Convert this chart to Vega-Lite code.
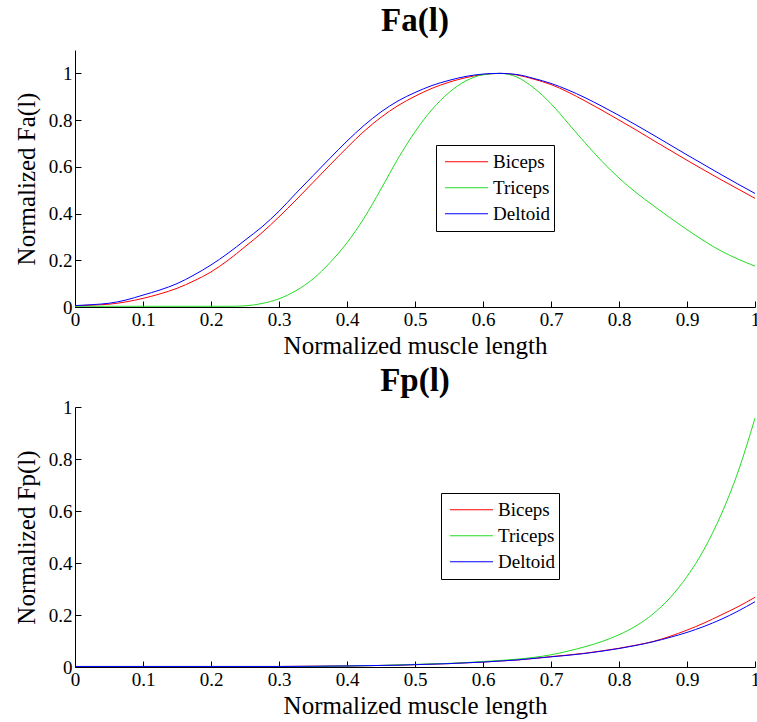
{
  "$schema": "https://vega.github.io/schema/vega-lite/v6.json",
  "padding": {"left": 14, "top": 5, "right": 2, "bottom": 2},
  "background": "white",
  "config": {
    "font": "Liberation Serif",
    "view": {"stroke": null},
    "axis": {"grid": false, "domainColor": "black", "tickColor": "black", "labelColor": "black", "titleColor": "black", "labelFont": "Liberation Serif", "titleFont": "Liberation Serif", "labelFontSize": 19, "titleFontSize": 25, "titleFontWeight": "normal", "tickSize": -6, "labelPadding": 9, "labelFlush": false, "domainWidth": 1, "tickWidth": 1},
    "axisY": {"titlePadding": 9},
    "title": {"font": "Liberation Serif", "fontSize": 33, "fontWeight": "bold", "color": "black"},
    "legend": {"title": null, "symbolType": "stroke", "symbolSize": 1850, "symbolStrokeWidth": 1, "clipHeight": 25.5, "labelFontSize": 19, "labelFont": "Liberation Serif", "labelColor": "black", "strokeColor": "black", "fillColor": "white", "padding": 4, "rowPadding": 0, "labelOffset": 4, "symbolOffset": 4}
  },
  "datasets": {
    "fa": [
      {"x":0,"v":0.005,"m":"Biceps"},{"x":0.025,"v":0.008,"m":"Biceps"},{"x":0.05,"v":0.012,"m":"Biceps"},{"x":0.075,"v":0.022,"m":"Biceps"},{"x":0.1,"v":0.037,"m":"Biceps"},{"x":0.125,"v":0.056,"m":"Biceps"},{"x":0.15,"v":0.08,"m":"Biceps"},{"x":0.175,"v":0.112,"m":"Biceps"},{"x":0.2,"v":0.15,"m":"Biceps"},{"x":0.225,"v":0.2,"m":"Biceps"},{"x":0.25,"v":0.258,"m":"Biceps"},{"x":0.275,"v":0.318,"m":"Biceps"},{"x":0.3,"v":0.386,"m":"Biceps"},{"x":0.325,"v":0.458,"m":"Biceps"},{"x":0.35,"v":0.533,"m":"Biceps"},{"x":0.375,"v":0.608,"m":"Biceps"},{"x":0.4,"v":0.682,"m":"Biceps"},{"x":0.425,"v":0.752,"m":"Biceps"},{"x":0.45,"v":0.812,"m":"Biceps"},{"x":0.475,"v":0.862,"m":"Biceps"},{"x":0.5,"v":0.902,"m":"Biceps"},{"x":0.525,"v":0.936,"m":"Biceps"},{"x":0.55,"v":0.962,"m":"Biceps"},{"x":0.575,"v":0.982,"m":"Biceps"},{"x":0.6,"v":0.995,"m":"Biceps"},{"x":0.625,"v":1.0,"m":"Biceps"},{"x":0.65,"v":0.993,"m":"Biceps"},{"x":0.675,"v":0.975,"m":"Biceps"},{"x":0.7,"v":0.952,"m":"Biceps"},{"x":0.725,"v":0.92,"m":"Biceps"},{"x":0.75,"v":0.882,"m":"Biceps"},{"x":0.775,"v":0.842,"m":"Biceps"},{"x":0.8,"v":0.8,"m":"Biceps"},{"x":0.825,"v":0.758,"m":"Biceps"},{"x":0.85,"v":0.714,"m":"Biceps"},{"x":0.875,"v":0.671,"m":"Biceps"},{"x":0.9,"v":0.628,"m":"Biceps"},{"x":0.925,"v":0.586,"m":"Biceps"},{"x":0.95,"v":0.545,"m":"Biceps"},{"x":0.975,"v":0.505,"m":"Biceps"},{"x":1,"v":0.465,"m":"Biceps"},
      {"x":0,"v":0.003,"m":"Triceps"},{"x":0.025,"v":0.003,"m":"Triceps"},{"x":0.05,"v":0.003,"m":"Triceps"},{"x":0.075,"v":0.003,"m":"Triceps"},{"x":0.1,"v":0.003,"m":"Triceps"},{"x":0.125,"v":0.003,"m":"Triceps"},{"x":0.15,"v":0.003,"m":"Triceps"},{"x":0.175,"v":0.003,"m":"Triceps"},{"x":0.2,"v":0.003,"m":"Triceps"},{"x":0.225,"v":0.003,"m":"Triceps"},{"x":0.25,"v":0.005,"m":"Triceps"},{"x":0.275,"v":0.015,"m":"Triceps"},{"x":0.3,"v":0.035,"m":"Triceps"},{"x":0.325,"v":0.07,"m":"Triceps"},{"x":0.35,"v":0.12,"m":"Triceps"},{"x":0.375,"v":0.19,"m":"Triceps"},{"x":0.4,"v":0.275,"m":"Triceps"},{"x":0.425,"v":0.38,"m":"Triceps"},{"x":0.45,"v":0.505,"m":"Triceps"},{"x":0.475,"v":0.635,"m":"Triceps"},{"x":0.5,"v":0.75,"m":"Triceps"},{"x":0.525,"v":0.845,"m":"Triceps"},{"x":0.55,"v":0.918,"m":"Triceps"},{"x":0.575,"v":0.968,"m":"Triceps"},{"x":0.6,"v":0.994,"m":"Triceps"},{"x":0.625,"v":1.0,"m":"Triceps"},{"x":0.65,"v":0.984,"m":"Triceps"},{"x":0.675,"v":0.937,"m":"Triceps"},{"x":0.7,"v":0.87,"m":"Triceps"},{"x":0.725,"v":0.787,"m":"Triceps"},{"x":0.75,"v":0.703,"m":"Triceps"},{"x":0.775,"v":0.623,"m":"Triceps"},{"x":0.8,"v":0.552,"m":"Triceps"},{"x":0.825,"v":0.49,"m":"Triceps"},{"x":0.85,"v":0.435,"m":"Triceps"},{"x":0.875,"v":0.382,"m":"Triceps"},{"x":0.9,"v":0.331,"m":"Triceps"},{"x":0.925,"v":0.283,"m":"Triceps"},{"x":0.95,"v":0.24,"m":"Triceps"},{"x":0.975,"v":0.205,"m":"Triceps"},{"x":1,"v":0.175,"m":"Triceps"},
      {"x":0,"v":0.006,"m":"Deltoid"},{"x":0.025,"v":0.01,"m":"Deltoid"},{"x":0.05,"v":0.016,"m":"Deltoid"},{"x":0.075,"v":0.03,"m":"Deltoid"},{"x":0.1,"v":0.051,"m":"Deltoid"},{"x":0.125,"v":0.073,"m":"Deltoid"},{"x":0.15,"v":0.1,"m":"Deltoid"},{"x":0.175,"v":0.137,"m":"Deltoid"},{"x":0.2,"v":0.18,"m":"Deltoid"},{"x":0.225,"v":0.23,"m":"Deltoid"},{"x":0.25,"v":0.286,"m":"Deltoid"},{"x":0.275,"v":0.343,"m":"Deltoid"},{"x":0.3,"v":0.41,"m":"Deltoid"},{"x":0.325,"v":0.487,"m":"Deltoid"},{"x":0.35,"v":0.562,"m":"Deltoid"},{"x":0.375,"v":0.637,"m":"Deltoid"},{"x":0.4,"v":0.71,"m":"Deltoid"},{"x":0.425,"v":0.777,"m":"Deltoid"},{"x":0.45,"v":0.835,"m":"Deltoid"},{"x":0.475,"v":0.882,"m":"Deltoid"},{"x":0.5,"v":0.918,"m":"Deltoid"},{"x":0.525,"v":0.948,"m":"Deltoid"},{"x":0.55,"v":0.97,"m":"Deltoid"},{"x":0.575,"v":0.987,"m":"Deltoid"},{"x":0.6,"v":0.997,"m":"Deltoid"},{"x":0.625,"v":1.0,"m":"Deltoid"},{"x":0.65,"v":0.995,"m":"Deltoid"},{"x":0.675,"v":0.978,"m":"Deltoid"},{"x":0.7,"v":0.957,"m":"Deltoid"},{"x":0.725,"v":0.929,"m":"Deltoid"},{"x":0.75,"v":0.896,"m":"Deltoid"},{"x":0.775,"v":0.859,"m":"Deltoid"},{"x":0.8,"v":0.82,"m":"Deltoid"},{"x":0.825,"v":0.779,"m":"Deltoid"},{"x":0.85,"v":0.737,"m":"Deltoid"},{"x":0.875,"v":0.694,"m":"Deltoid"},{"x":0.9,"v":0.651,"m":"Deltoid"},{"x":0.925,"v":0.609,"m":"Deltoid"},{"x":0.95,"v":0.567,"m":"Deltoid"},{"x":0.975,"v":0.526,"m":"Deltoid"},{"x":1,"v":0.486,"m":"Deltoid"}
    ],
    "fp": [
      {"x":0,"v":0.002,"m":"Biceps"},{"x":0.05,"v":0.002,"m":"Biceps"},{"x":0.1,"v":0.002,"m":"Biceps"},{"x":0.15,"v":0.002,"m":"Biceps"},{"x":0.2,"v":0.002,"m":"Biceps"},{"x":0.25,"v":0.002,"m":"Biceps"},{"x":0.3,"v":0.002,"m":"Biceps"},{"x":0.35,"v":0.003,"m":"Biceps"},{"x":0.4,"v":0.004,"m":"Biceps"},{"x":0.425,"v":0.005,"m":"Biceps"},{"x":0.45,"v":0.006,"m":"Biceps"},{"x":0.475,"v":0.007,"m":"Biceps"},{"x":0.5,"v":0.009,"m":"Biceps"},{"x":0.525,"v":0.011,"m":"Biceps"},{"x":0.55,"v":0.013,"m":"Biceps"},{"x":0.575,"v":0.016,"m":"Biceps"},{"x":0.6,"v":0.019,"m":"Biceps"},{"x":0.625,"v":0.023,"m":"Biceps"},{"x":0.65,"v":0.027,"m":"Biceps"},{"x":0.675,"v":0.033,"m":"Biceps"},{"x":0.7,"v":0.04,"m":"Biceps"},{"x":0.725,"v":0.046,"m":"Biceps"},{"x":0.75,"v":0.053,"m":"Biceps"},{"x":0.775,"v":0.062,"m":"Biceps"},{"x":0.8,"v":0.072,"m":"Biceps"},{"x":0.825,"v":0.084,"m":"Biceps"},{"x":0.85,"v":0.098,"m":"Biceps"},{"x":0.875,"v":0.118,"m":"Biceps"},{"x":0.9,"v":0.142,"m":"Biceps"},{"x":0.925,"v":0.169,"m":"Biceps"},{"x":0.95,"v":0.2,"m":"Biceps"},{"x":0.975,"v":0.232,"m":"Biceps"},{"x":1,"v":0.268,"m":"Biceps"},
      {"x":0,"v":0.002,"m":"Triceps"},{"x":0.05,"v":0.002,"m":"Triceps"},{"x":0.1,"v":0.002,"m":"Triceps"},{"x":0.15,"v":0.002,"m":"Triceps"},{"x":0.2,"v":0.002,"m":"Triceps"},{"x":0.25,"v":0.002,"m":"Triceps"},{"x":0.3,"v":0.002,"m":"Triceps"},{"x":0.35,"v":0.002,"m":"Triceps"},{"x":0.375,"v":0.003,"m":"Triceps"},{"x":0.4,"v":0.004,"m":"Triceps"},{"x":0.425,"v":0.005,"m":"Triceps"},{"x":0.45,"v":0.006,"m":"Triceps"},{"x":0.475,"v":0.008,"m":"Triceps"},{"x":0.5,"v":0.01,"m":"Triceps"},{"x":0.525,"v":0.012,"m":"Triceps"},{"x":0.55,"v":0.014,"m":"Triceps"},{"x":0.575,"v":0.017,"m":"Triceps"},{"x":0.6,"v":0.021,"m":"Triceps"},{"x":0.625,"v":0.025,"m":"Triceps"},{"x":0.65,"v":0.03,"m":"Triceps"},{"x":0.675,"v":0.037,"m":"Triceps"},{"x":0.7,"v":0.047,"m":"Triceps"},{"x":0.725,"v":0.061,"m":"Triceps"},{"x":0.75,"v":0.078,"m":"Triceps"},{"x":0.775,"v":0.098,"m":"Triceps"},{"x":0.8,"v":0.124,"m":"Triceps"},{"x":0.825,"v":0.158,"m":"Triceps"},{"x":0.85,"v":0.204,"m":"Triceps"},{"x":0.875,"v":0.266,"m":"Triceps"},{"x":0.9,"v":0.348,"m":"Triceps"},{"x":0.925,"v":0.452,"m":"Triceps"},{"x":0.95,"v":0.585,"m":"Triceps"},{"x":0.975,"v":0.75,"m":"Triceps"},{"x":1,"v":0.957,"m":"Triceps"},
      {"x":0,"v":0.002,"m":"Deltoid"},{"x":0.05,"v":0.002,"m":"Deltoid"},{"x":0.1,"v":0.002,"m":"Deltoid"},{"x":0.15,"v":0.002,"m":"Deltoid"},{"x":0.2,"v":0.002,"m":"Deltoid"},{"x":0.25,"v":0.002,"m":"Deltoid"},{"x":0.3,"v":0.002,"m":"Deltoid"},{"x":0.35,"v":0.003,"m":"Deltoid"},{"x":0.4,"v":0.004,"m":"Deltoid"},{"x":0.425,"v":0.005,"m":"Deltoid"},{"x":0.45,"v":0.006,"m":"Deltoid"},{"x":0.475,"v":0.007,"m":"Deltoid"},{"x":0.5,"v":0.009,"m":"Deltoid"},{"x":0.525,"v":0.011,"m":"Deltoid"},{"x":0.55,"v":0.013,"m":"Deltoid"},{"x":0.575,"v":0.016,"m":"Deltoid"},{"x":0.6,"v":0.019,"m":"Deltoid"},{"x":0.625,"v":0.023,"m":"Deltoid"},{"x":0.65,"v":0.027,"m":"Deltoid"},{"x":0.675,"v":0.033,"m":"Deltoid"},{"x":0.7,"v":0.039,"m":"Deltoid"},{"x":0.725,"v":0.045,"m":"Deltoid"},{"x":0.75,"v":0.052,"m":"Deltoid"},{"x":0.775,"v":0.061,"m":"Deltoid"},{"x":0.8,"v":0.071,"m":"Deltoid"},{"x":0.825,"v":0.083,"m":"Deltoid"},{"x":0.85,"v":0.097,"m":"Deltoid"},{"x":0.875,"v":0.114,"m":"Deltoid"},{"x":0.9,"v":0.133,"m":"Deltoid"},{"x":0.925,"v":0.156,"m":"Deltoid"},{"x":0.95,"v":0.183,"m":"Deltoid"},{"x":0.975,"v":0.215,"m":"Deltoid"},{"x":1,"v":0.251,"m":"Deltoid"}
    ]
  },
  "spacing": 7,
  "resolve": {"legend": {"color": "independent"}},
  "vconcat": [
    {
      "width": 680,
      "height": 257,
      "title": {"text": "Fa(l)", "offset": 12},
      "data": {"name": "fa"},
      "mark": {"type": "line", "strokeWidth": 1, "interpolate": "monotone"},
      "encoding": {
        "x": {"field": "x", "type": "quantitative", "scale": {"domain": [0, 1], "nice": false}, "axis": {"values": [0,0.1,0.2,0.3,0.4,0.5,0.6,0.7,0.8,0.9,1], "format": "~g", "title": "Normalized muscle length"}},
        "y": {"field": "v", "type": "quantitative", "scale": {"domain": [0, 1.1], "nice": false}, "axis": {"values": [0,0.2,0.4,0.6,0.8,1], "format": "~g", "title": "Normalized Fa(l)"}},
        "color": {"field": "m", "type": "nominal", "scale": {"domain": ["Biceps","Triceps","Deltoid"], "range": ["#ff0000","#22dd22","#0000ff"]}, "legend": {"orient": "none", "legendX": 361, "legendY": 95}}
      }
    },
    {
      "width": 680,
      "height": 260,
      "title": {"text": "Fp(l)", "offset": 0},
      "data": {"name": "fp"},
      "mark": {"type": "line", "strokeWidth": 1, "interpolate": "monotone"},
      "encoding": {
        "x": {"field": "x", "type": "quantitative", "scale": {"domain": [0, 1], "nice": false}, "axis": {"values": [0,0.1,0.2,0.3,0.4,0.5,0.6,0.7,0.8,0.9,1], "format": "~g", "title": "Normalized muscle length"}},
        "y": {"field": "v", "type": "quantitative", "scale": {"domain": [0, 1], "nice": false}, "axis": {"values": [0,0.2,0.4,0.6,0.8,1], "format": "~g", "title": "Normalized Fp(l)"}},
        "color": {"field": "m", "type": "nominal", "scale": {"domain": ["Biceps","Triceps","Deltoid"], "range": ["#ff0000","#22dd22","#0000ff"]}, "legend": {"orient": "none", "legendX": 366, "legendY": 86}}
      }
    }
  ]
}
